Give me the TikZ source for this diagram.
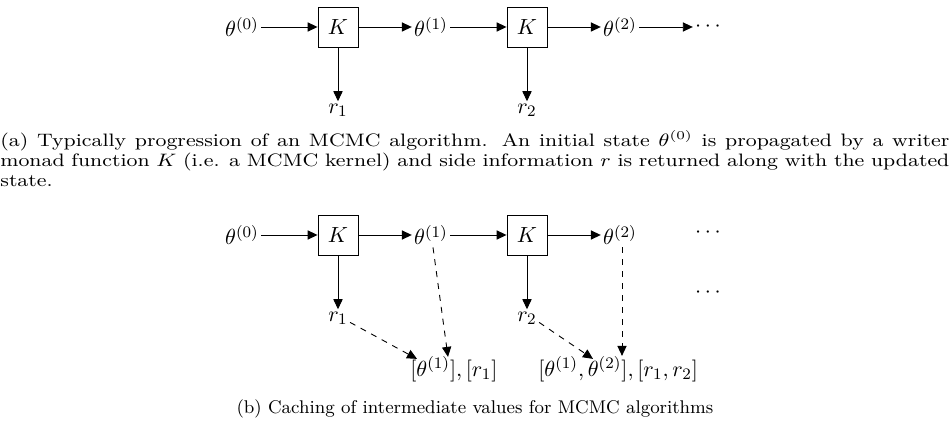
\documentclass[tikz,border=0pt]{standalone}
\usetikzlibrary{arrows.meta,calc}
\begin{document}
\begin{tikzpicture}[x=0.5pt,y=-0.5pt,
  lbl/.style={inner sep=1pt,font=\fontsize{11}{13}\selectfont},
  kbox/.style={draw,line width=0.45pt,minimum size=20pt,inner sep=0pt,font=\fontsize{11}{13}\selectfont},
  arr/.style={-{Triangle[length=5pt,width=4.6pt]},line width=0.45pt},
  darr/.style={arr,dashed}]
\useasboundingbox (0,0) rectangle (949,432);
% ---------- (a) ----------
\node[lbl] (a0) at (242,27) {$\theta^{(0)}$};
\node[kbox] (ak1) at (338,27) {$K$};
\node[lbl] (a1) at (431,27) {$\theta^{(1)}$};
\node[kbox] (ak2) at (527,27) {$K$};
\node[lbl] (a2) at (620,27) {$\theta^{(2)}$};
\node[lbl] (a3) at (708,27) {$\cdots$};
\node[lbl] (ar1) at (338,110) {$r_1$};
\node[lbl] (ar2) at (527,110) {$r_2$};
\draw[arr] (a0) -- (ak1);
\draw[arr] (ak1) -- (a1);
\draw[arr] (a1) -- (ak2);
\draw[arr] (ak2) -- (a2);
\draw[arr] (a2) -- (a3);
\draw[arr] (ak1) -- (ar1);
\draw[arr] (ak2) -- (ar2);
\node[anchor=base west,inner sep=0pt] (capa) at (0,147)
  {\scalebox{1.18}[1]{\parbox[t]{402.1pt}{\fontsize{9}{10}\selectfont
  \hyphenpenalty=10000 \exhyphenpenalty=10000 \tolerance=9999 \emergencystretch=20pt
  (a) Typically progression of an MCMC algorithm. An initial state $\theta^{(0)}$ is propagated by a writer\linebreak
  monad function $K$ (i.e. a MCMC kernel) and side information $r$ is returned along with the updated\linebreak
  state.}}};
% ---------- (b) ----------
\node[lbl] (b0) at (242,235) {$\theta^{(0)}$};
\node[kbox] (bk1) at (338,235) {$K$};
\node[lbl] (b1) at (431,235) {$\theta^{(1)}$};
\node[kbox] (bk2) at (527,235) {$K$};
\node[lbl] (b2) at (620,235) {$\theta^{(2)}$};
\node[lbl] (b3) at (708,233) {$\cdots$};
\node[lbl] (b4) at (708,293) {$\cdots$};
\node[lbl] (br1) at (338,318) {$r_1$};
\node[lbl] (br2) at (527,318) {$r_2$};
\node[lbl,anchor=west] (c1) at (408,369) {$[\theta^{(1)}], [r_1]$};
\node[lbl,anchor=west] (c2) at (536,369) {$[\theta^{(1)}, \theta^{(2)}], [r_1, r_2]$};
\coordinate (c1a) at ([xshift=4.5pt,yshift=-2.5pt]c1.north west);
\coordinate (c1b) at ([xshift=20pt,yshift=-1.5pt]c1.north west);
\coordinate (c2a) at ([xshift=28.5pt,yshift=-2.5pt]c2.north west);
\draw[arr] (b0) -- (bk1);
\draw[arr] (bk1) -- (b1);
\draw[arr] (b1) -- (bk2);
\draw[arr] (bk2) -- (b2);
\draw[arr] (bk1) -- (br1);
\draw[arr] (bk2) -- (br2);
\draw[darr] (br1.-20) -- (c1a);
\draw[darr] ([xshift=1pt]b1.south) -- (c1b);
\draw[darr] (br2.-20) -- (c2a);
\draw[darr] ([xshift=1pt]b2.south) -- ([xshift=1pt,yshift=-1pt]b2.south |- c2.north);
\node[anchor=base,inner sep=0pt,font=\fontsize{9.2}{11}\selectfont] (capb) at (475,414)
  {(b) Caching of intermediate values for MCMC algorithms};
\end{tikzpicture}
\end{document}
